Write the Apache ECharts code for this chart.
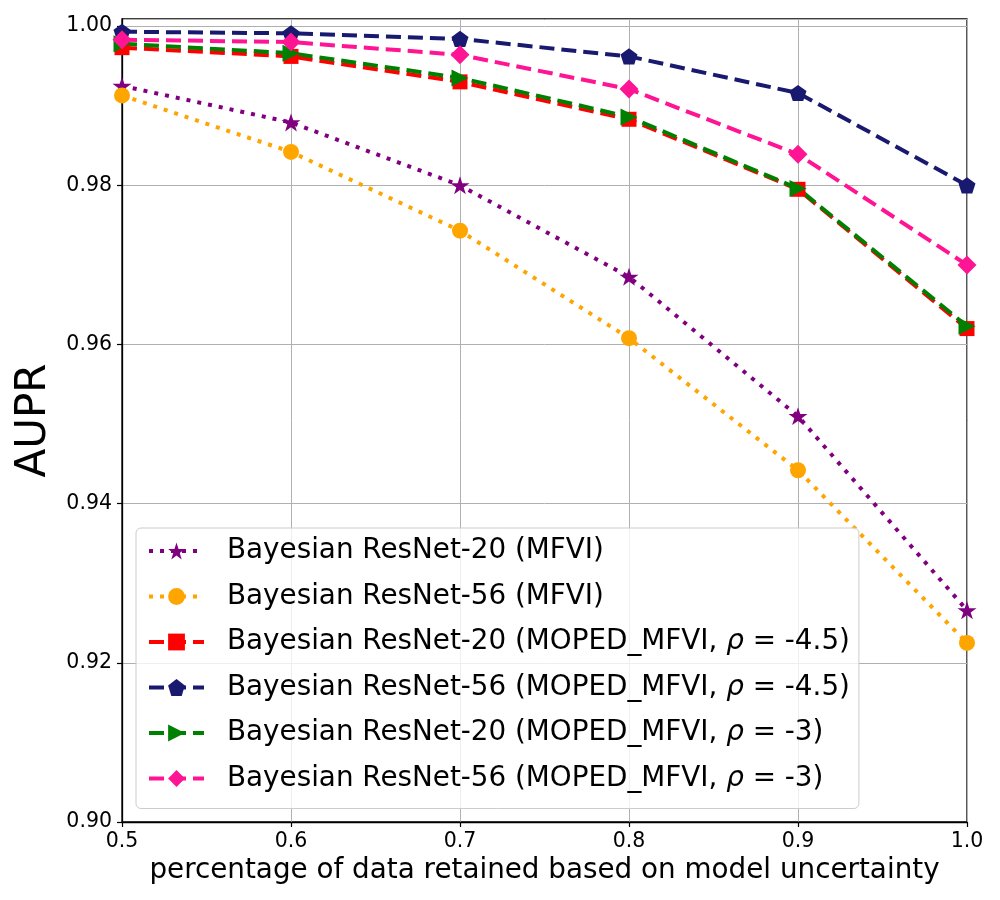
<!DOCTYPE html>
<html>
<head>
<meta charset="utf-8">
<script src="https://cdn.jsdelivr.net/npm/echarts@6/dist/echarts.min.js"></script>
<style>
  html, body { margin: 0; padding: 0; background: #fff; }
  #chart { width: 1000px; height: 900px; }
</style>
</head>
<body>
<div id="chart"></div>
<script>
// fraction of data retained
var retained = [0.5, 0.6, 0.7, 0.8, 0.9, 1.0]

// AUPR values per model
var r20Mfvi = [0.9925, 0.9879, 0.9800, 0.9685, 0.9510, 0.9266]
var r56Mfvi = [0.9913, 0.9842, 0.9743, 0.9608, 0.9442, 0.9225]
var r20Moped45 = [0.9973, 0.9962, 0.9930, 0.9883, 0.9795, 0.9620]
var r56Moped45 = [0.9993, 0.9991, 0.9984, 0.9962, 0.9916, 0.9800]
var r20Moped3 = [0.9978, 0.9966, 0.9935, 0.9886, 0.9796, 0.9623]
var r56Moped3 = [0.9983, 0.9980, 0.9964, 0.9921, 0.9839, 0.9700]

var xTicks = [0.5, 0.6, 0.7, 0.8, 0.9, 1.0]
var yTicks = [0.90, 0.92, 0.94, 0.96, 0.98, 1.00]

var FONT = 'DejaVu Sans'
var STAR = 'path://M50,0 L61.8,35.3 L99,35.3 L69,57.3 L80.4,92.7 L50,70.9 L19.6,92.7 L31,57.3 L1,35.3 L38.2,35.3 Z'
var PENTAGON = 'path://M50,0 L100,36.3 L80.9,95.1 L19.1,95.1 L0,36.3 Z'

function pairs (ys) {
  return retained.map(function (x, i) { return [x, ys[i]] })
}

function makeSeries (name, ys, color, dash, symbol, size, extra) {
  var s = {
    name: name,
    type: 'line',
    data: pairs(ys),
    symbol: symbol,
    symbolSize: size,
    symbolKeepAspect: true,
    showAllSymbol: true,
    clip: false,
    lineStyle: { color: color, width: 4, type: dash, cap: 'butt' },
    itemStyle: { color: color, borderWidth: 0 },
    emphasis: { disabled: true },
    animation: false
  }
  for (var k in extra) s[k] = extra[k]
  return s
}

var chart = echarts.init(document.getElementById('chart'), null, { renderer: 'canvas' })
chart.setOption({
  backgroundColor: '#fff',
  textStyle: { fontFamily: FONT },
  grid: {
    left: 122,
    right: 33,
    top: 19,
    bottom: 78,
    show: true,
    borderColor: '#000',
    borderWidth: 1.3,
    backgroundColor: 'transparent'
  },
  xAxis: {
    type: 'value',
    min: 0.5,
    max: 1.0,
    interval: 0.1,
    name: 'percentage of data retained based on model uncertainty',
    nameLocation: 'middle',
    nameGap: 34,
    nameTextStyle: { fontSize: 27.8, color: '#000', fontFamily: FONT },
    axisLine: { show: true, lineStyle: { color: '#000', width: 1.3 } },
    axisTick: { show: true, length: 5, lineStyle: { color: '#000', width: 1.2 } },
    axisLabel: {
      fontSize: 20.5,
      color: '#000',
      margin: 9,
      fontFamily: FONT,
      formatter: function (v) {
        return xTicks.some(function (t) { return Math.abs(t - v) < 1e-6 }) ? v.toFixed(1) : ''
      }
    },
    splitLine: { show: true, lineStyle: { color: '#b0b0b0', width: 1 } }
  },
  yAxis: {
    type: 'value',
    min: 0.90,
    max: 1.0009,
    interval: 0.02,
    name: 'AUPR',
    nameLocation: 'middle',
    nameRotate: 90,
    nameGap: 64,
    nameTextStyle: { fontSize: 42, color: '#000', fontFamily: FONT },
    axisLine: { show: true, lineStyle: { color: '#000', width: 1.3 } },
    axisTick: { show: true, length: 5, lineStyle: { color: '#000', width: 1.2 } },
    axisLabel: {
      fontSize: 20.5,
      color: '#000',
      margin: 10,
      fontFamily: FONT,
      showMaxLabel: false,
      formatter: function (v) {
        return yTicks.some(function (t) { return Math.abs(t - v) < 1e-6 }) ? v.toFixed(2) : ''
      }
    },
    splitLine: { show: true, lineStyle: { color: '#b0b0b0', width: 1 } }
  },
  legend: {
    orient: 'vertical',
    left: 136,
    top: 528,
    padding: [8, 9, 15, 11],
    itemWidth: 55,
    itemHeight: 21,
    itemGap: 15.5,
    backgroundColor: 'rgba(255,255,255,0.8)',
    borderColor: '#cccccc',
    borderWidth: 1,
    borderRadius: 5,
    lineStyle: { width: 4 },
    formatter: function (name) {
      return name.replace('ρ', '{i|ρ}')
    },
    textStyle: {
      fontSize: 27.8,
      color: '#000',
      fontFamily: FONT,
      lineHeight: 30,
      padding: [0, 0, 0, 18],
      rich: {
        i: { fontSize: 27.8, fontStyle: 'italic', fontFamily: FONT, color: '#000', lineHeight: 30 }
      }
    },
    selectedMode: false
  },
  series: [
    makeSeries('Bayesian ResNet-20 (MFVI)', r20Mfvi, '#800080', [4, 7], STAR, 19, {}),
    makeSeries('Bayesian ResNet-56 (MFVI)', r56Mfvi, '#ffa500', [4, 7], 'circle', 16, {}),
    makeSeries('Bayesian ResNet-20 (MOPED_MFVI, ρ = -4.5)', r20Moped45, '#ff0000', [15, 7], 'rect', 15, {}),
    makeSeries('Bayesian ResNet-56 (MOPED_MFVI, ρ = -4.5)', r56Moped45, '#191970', [15, 7], PENTAGON, 17, {}),
    makeSeries('Bayesian ResNet-20 (MOPED_MFVI, ρ = -3)', r20Moped3, '#008000', [15, 7], 'triangle', 17, { symbolRotate: -90 }),
    makeSeries('Bayesian ResNet-56 (MOPED_MFVI, ρ = -3)', r56Moped3, '#ff1493', [15, 7], 'diamond', 19, {})
  ]
})
</script>
</body>
</html>
